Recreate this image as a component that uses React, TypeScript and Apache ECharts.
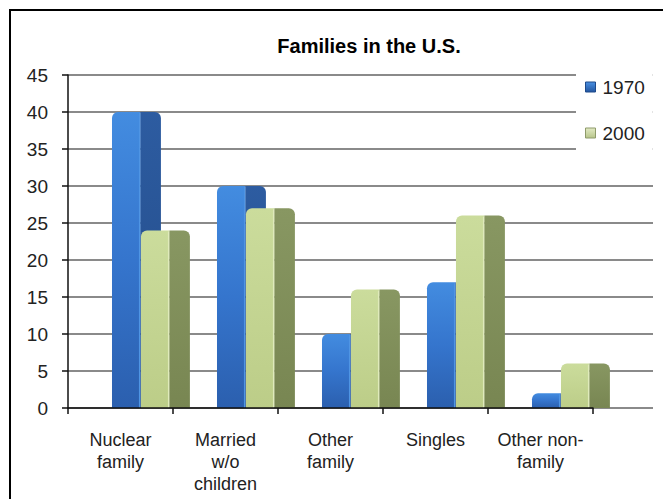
import React, { useEffect, useRef } from "react";
import * as echarts from "echarts";

const categories = ["Nuclear\nfamily", "Married\nw/o\nchildren", "Other\nfamily", "Singles", "Other non-\nfamily"];
const seriesNames = ["1970", "2000"];
const values1970 = [40, 30, 10, 17, 2];
const values2000 = [24, 27, 16, 26, 6];
const yTicks = { min: 0, max: 45, interval: 5 };

const FONT = "'Liberation Sans', Arial, sans-serif";

const grad = (stops: [number, string][]) => ({
  type: "linear",
  x: 0,
  y: 0,
  x2: 0,
  y2: 1,
  colorStops: stops.map(([offset, color]) => ({ offset, color })),
});

const palettes = [
  {
    front: grad([[0, "#438ce0"], [0.5, "#3575cd"], [1, "#2b5fae"]]),
    side: grad([[0, "#2d5ca1"], [1, "#224a86"]]),
    edge: "#4f95e4",
    legend: grad([[0, "#4a90e2"], [1, "#2356a0"]]),
    legendBorder: "#1e4a8a",
  },
  {
    front: grad([[0, "#cbdc9c"], [1, "#bccd88"]]),
    side: grad([[0, "#889762"], [1, "#788652"]]),
    edge: "#dfeabb",
    legend: grad([[0, "#e2eac4"], [1, "#b7c58a"]]),
    legendBorder: "#8e9a6a",
  },
];

const makeRender = (s: number) => (params: any, api: any) => {
  const i = api.value(0);
  const v = api.value(1);
  const p0 = api.coord([i, 0]);
  const p1 = api.coord([i, v]);
  const bw = api.size([1, 0])[0];
  const frontW = bw * 0.271;
  const sideW = bw * 0.195;
  const left = p0[0] + bw * (s === 0 ? -0.081 : 0.195);
  const top = p1[1];
  const h = p0[1] - p1[1];
  const pal = palettes[s];
  const r = Math.min(6, h / 2);
  return {
    type: "group",
    children: [
      {
        type: "rect",
        shape: { x: left, y: top, width: frontW, height: h, r: [r, 0, 0, 0] },
        style: { fill: pal.front },
      },
      {
        type: "rect",
        shape: { x: left + frontW - 1.5, y: top + 1, width: 1.5, height: Math.max(0, h - 1) },
        style: { fill: pal.edge },
      },
      {
        type: "rect",
        shape: { x: left + frontW, y: top, width: sideW, height: h, r: [0, r, 0, 0] },
        style: { fill: pal.side },
      },
    ],
  };
};

export default function App() {
  const ref = useRef<HTMLDivElement>(null);
  useEffect(() => {
    if (!ref.current) return;
    const chart = echarts.init(ref.current, null, { renderer: "svg" });
    const allSeries = [values1970, values2000];
    chart.setOption({
      animation: false,
      backgroundColor: "#ffffff",
      textStyle: { fontFamily: FONT },
      title: {
        text: "Families in the U.S.",
        left: 364,
        top: 31,
        textAlign: "center",
        textStyle: { fontFamily: FONT, fontSize: 20, fontWeight: "bold", color: "#000" },
      },
      legend: {
        orient: "vertical",
        left: 576,
        top: 63,
        padding: [13, 8, 12, 9],
        backgroundColor: "#ffffff",
        itemWidth: 10,
        itemHeight: 10,
        itemGap: 24,
        icon: "rect",
        textStyle: { fontFamily: FONT, fontSize: 19, color: "#222", lineHeight: 22, padding: [0, 0, 0, 2] },
        data: seriesNames.map((name, s) => ({
          name,
          icon: "rect",
          itemStyle: { color: palettes[s].legend, borderColor: palettes[s].legendBorder, borderWidth: 1 },
        })),
      },
      graphic: [
        {
          type: "rect",
          shape: { x: 10, y: 10, width: 700, height: 600 },
          style: { fill: "none", stroke: "#000", lineWidth: 2 },
          z: 10,
          silent: true,
        },
      ],
      grid: [
        { left: 68, top: 75, width: 525, height: 333 },
        { left: 68, top: 75, width: 585, height: 333 },
      ],
      xAxis: [
        {
          type: "category",
          gridIndex: 0,
          data: categories,
          boundaryGap: true,
          axisLine: { show: true, lineStyle: { color: "#111", width: 1.5 } },
          axisTick: { show: true, length: 6, lineStyle: { color: "#111", width: 1.5 } },
          axisLabel: {
            interval: 0,
            margin: 21,
            fontFamily: FONT,
            fontSize: 18,
            lineHeight: 22,
            color: "#222",
            align: "center",
          },
          z: 3,
        },
        {
          type: "value",
          gridIndex: 1,
          min: 0,
          max: 1,
          show: false,
        },
      ],
      yAxis: [
        {
          type: "value",
          gridIndex: 0,
          min: yTicks.min,
          max: yTicks.max,
          interval: yTicks.interval,
          axisLine: { show: true, lineStyle: { color: "#111", width: 1.5 } },
          axisTick: { show: true, length: 6, lineStyle: { color: "#111", width: 1.5 } },
          axisLabel: { margin: 20, fontFamily: FONT, fontSize: 19, color: "#222" },
          splitLine: { show: false },
          z: 3,
        },
        {
          type: "value",
          gridIndex: 1,
          min: yTicks.min,
          max: yTicks.max,
          interval: yTicks.interval,
          axisLine: { show: false },
          axisTick: { show: false },
          axisLabel: { show: false },
          splitLine: { show: true, lineStyle: { color: "#8a8a8a", width: 2 } },
        },
      ],
      series: allSeries.map((vals, s) => ({
        name: seriesNames[s],
        type: "custom",
        xAxisIndex: 0,
        yAxisIndex: 0,
        renderItem: makeRender(s),
        encode: { x: 0, y: 1 },
        itemStyle: { color: palettes[s].legend },
        data: vals.map((v, i) => [i, v]),
        z: 2 + s,
      })),
    });
    return () => chart.dispose();
  }, []);
  return (
    <div
      ref={ref}
      style={{ position: "absolute", left: 0, top: 0, width: 663, height: 499 }}
    />
  );
}
